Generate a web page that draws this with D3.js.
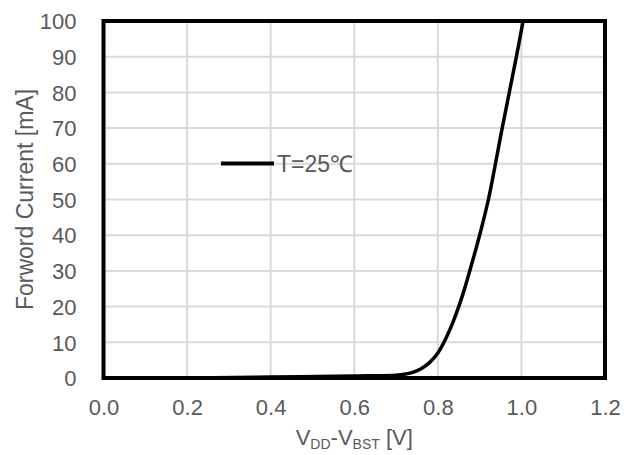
<!DOCTYPE html>
<html>
<head>
<meta charset="utf-8">
<script src="https://cdn.jsdelivr.net/npm/d3@7"></script>
<style>
  html, body { margin: 0; padding: 0; background: #fff; }
  svg { display: block; font-family: "Liberation Sans", Arial, sans-serif; }
</style>
</head>
<body>
<svg id="chart" width="636" height="455"></svg>
<script>
// Forward voltage (V) vs forward current (mA) of the bootstrap diode
const voltage = [0, 0.2, 0.4, 0.6, 0.7, 0.72, 0.74, 0.76, 0.78, 0.8, 0.82, 0.84, 0.86, 0.88, 0.9, 0.921, 0.954, 0.988, 1.004];
const current = [0, 0.05, 0.25, 0.55, 0.8, 1.05, 1.6, 2.6, 4.3, 7.0, 11.3, 16.8, 23.5, 31.5, 40, 50, 70, 90, 100];
const xTicks = [0, 0.2, 0.4, 0.6, 0.8, 1.0, 1.2];
const yTicks = [0, 10, 20, 30, 40, 50, 60, 70, 80, 90, 100];
const seriesName = "T=25\u2103";

const svg = d3.select("#chart");
const plotLeft = 103.5, plotRight = 605, plotTop = 21, plotBottom = 378;

const x = d3.scaleLinear().domain([0, 1.2]).range([plotLeft, plotRight]);
const y = d3.scaleLinear().domain([0, 100]).range([plotBottom, plotTop]);

const labelColor = "#595959";
const gridColor = "#d9d9d9";

// Gridlines
svg.append("g")
  .selectAll("line")
  .data(xTicks.slice(1, -1))
  .join("line")
  .attr("x1", d => x(d)).attr("x2", d => x(d))
  .attr("y1", plotTop).attr("y2", plotBottom)
  .attr("stroke", gridColor).attr("stroke-width", 2);

svg.append("g")
  .selectAll("line")
  .data(yTicks.slice(1, -1))
  .join("line")
  .attr("x1", plotLeft).attr("x2", plotRight)
  .attr("y1", d => y(d)).attr("y2", d => y(d))
  .attr("stroke", gridColor).attr("stroke-width", 2);

// Axes (labels only, no tick marks)
const xAxis = d3.axisBottom(x).tickValues(xTicks).tickFormat(d3.format(".1f")).tickSize(0).tickPadding(0);
const gx = svg.append("g").attr("transform", `translate(0,${plotBottom})`).call(xAxis);
gx.select(".domain").remove();
gx.selectAll("text")
  .attr("dy", null).attr("y", 37)
  .attr("fill", labelColor).attr("font-size", 22)
  .attr("font-family", "Liberation Sans, Arial, sans-serif");

const yAxis = d3.axisLeft(y).tickValues(yTicks).tickSize(0).tickPadding(27);
const gy = svg.append("g").attr("transform", `translate(${plotLeft},0)`).call(yAxis);
gy.select(".domain").remove();
gy.selectAll("text")
  .attr("dy", "0.35em")
  .attr("fill", labelColor).attr("font-size", 22)
  .attr("font-family", "Liberation Sans, Arial, sans-serif");

// Data curve (smoothed)
const line = d3.line()
  .x((d, i) => x(voltage[i]))
  .y(d => y(Math.max(0, d)))
  .curve(d3.curveCatmullRom.alpha(0.5));

svg.append("path")
  .datum(current)
  .attr("d", line)
  .attr("fill", "none")
  .attr("stroke", "#000")
  .attr("stroke-width", 3.5)
  .attr("stroke-linejoin", "round");

// Plot frame
svg.append("rect")
  .attr("x", plotLeft).attr("y", plotTop)
  .attr("width", plotRight - plotLeft).attr("height", plotBottom - plotTop)
  .attr("fill", "none").attr("stroke", "#000").attr("stroke-width", 4);

// Legend
svg.append("line")
  .attr("x1", 221).attr("x2", 274)
  .attr("y1", 163.5).attr("y2", 163.5)
  .attr("stroke", "#000").attr("stroke-width", 4);
svg.append("text")
  .attr("x", 277).attr("y", 163.5).attr("dy", "0.35em")
  .attr("fill", labelColor).attr("font-size", 23)
  .text(seriesName);

// Axis titles
svg.append("text")
  .attr("transform", `translate(33,${(plotTop + plotBottom) / 2}) rotate(-90)`)
  .attr("text-anchor", "middle")
  .attr("fill", labelColor).attr("font-size", 23)
  .text("Forword Current [mA]");

const xt = svg.append("text")
  .attr("x", (plotLeft + plotRight) / 2).attr("y", 445)
  .attr("text-anchor", "middle")
  .attr("fill", labelColor).attr("font-size", 22);
xt.append("tspan").text("V");
xt.append("tspan").attr("font-size", 14).attr("dy", 4).text("DD");
xt.append("tspan").attr("dy", -4).text("-V");
xt.append("tspan").attr("font-size", 14).attr("dy", 4).text("BST");
xt.append("tspan").attr("dy", -4).text(" [V]");
</script>
</body>
</html>
